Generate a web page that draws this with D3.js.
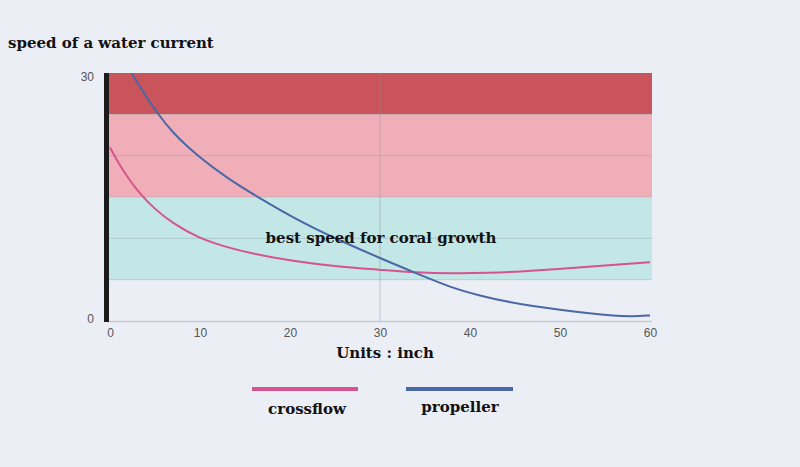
<!DOCTYPE html>
<html><head><meta charset="utf-8">
<script src="https://cdn.jsdelivr.net/npm/d3@7"></script>
<style>html,body{margin:0;padding:0;background:#eceef6;}svg{display:block;}</style>
</head><body>
<svg id="c" width="800" height="467"></svg>
<script>
const xTicks = [0,10,20,30,40,50,60];
const yTicks = [0,30];
const gridValues = [5,10,15,20,25];
const bands = [
  {from:25,to:30,color:"#c9545b"},
  {from:15,to:25,color:"#f0afb8"},
  {from:5,to:15,color:"#c3e6e6"}
];
const crossflow = [[0,21],[1,19],[2,17.3],[3.3,15.4],[5,13.5],[7,11.8],[9.7,10.1],[13,8.9],[16,8.1],[20,7.3],[25,6.6],[30,6.2],[34,5.85],[38,5.75],[42,5.8],[46,6.0],[50,6.3],[55,6.7],[60,7.1]];
const propeller = [[2.4,30],[3.5,28.0],[5.2,25.2],[7,22.7],[9.8,19.9],[13,17.3],[16.4,15],[21,12.1],[25,10],[30,7.6],[34.2,5.7],[38,4.0],[41,3.1],[44,2.35],[47,1.8],[50,1.35],[53,0.95],[56,0.62],[58,0.55],[60,0.68]];
const series = [
  {name:"crossflow", data:crossflow, color:"#d6538f"},
  {name:"propeller", data:propeller, color:"#4a67a6"}
];

const svg = d3.select("#c");
const x = d3.scaleLinear().domain([0,60]).range([110,650]);
const y = d3.scaleLinear().domain([0,30]).range([321,73]);
const L = 108, R = 652;

svg.append("defs").append("clipPath").attr("id","clip").append("rect")
  .attr("x",L).attr("y",y(30)).attr("width",R-L).attr("height",y(0)-y(30));

svg.append("g").selectAll("rect").data(bands).join("rect")
  .attr("x",L).attr("width",R-L)
  .attr("y",d=>y(d.to)).attr("height",d=>y(d.from)-y(d.to))
  .attr("fill",d=>d.color);

svg.append("g").selectAll("line").data(gridValues).join("line")
  .attr("x1",L).attr("x2",R).attr("y1",d=>y(d)).attr("y2",d=>y(d))
  .attr("stroke","#8a9aa0").attr("stroke-opacity",0.35).attr("stroke-width",1);

svg.append("line").attr("x1",x(30)).attr("x2",x(30)).attr("y1",y(30)).attr("y2",y(0))
  .attr("stroke","#8a8f99").attr("stroke-opacity",0.45);

svg.append("line").attr("x1",L).attr("x2",R).attr("y1",y(0)+0.5).attr("y2",y(0)+0.5)
  .attr("stroke","#c8cbd2").attr("stroke-width",1.5);

svg.append("rect").attr("x",104).attr("width",5).attr("y",y(30)).attr("height",y(0)-y(30)+1).attr("fill","#1b1b1b");

const line = d3.line().x(d=>x(d[0])).y(d=>y(d[1])).curve(d3.curveBasis);
svg.append("g").attr("clip-path","url(#clip)").selectAll("path").data(series).join("path")
  .attr("d",d=>line(d.data)).attr("fill","none")
  .attr("stroke",d=>d.color).attr("stroke-width",2);

const xAxis = d3.axisBottom(x).tickValues(xTicks).tickSize(0).tickPadding(7);
const gx = svg.append("g").attr("transform",`translate(0,${y(0)})`).call(xAxis);
gx.select(".domain").remove();
gx.selectAll("text").attr("font-family","Liberation Sans, Arial, sans-serif").attr("font-size",12).attr("fill","#555");

const yAxis = d3.axisLeft(y).tickValues(yTicks).tickSize(0).tickPadding(8);
const gy = svg.append("g").attr("transform",`translate(102,0)`).call(yAxis);
gy.select(".domain").remove();
gy.selectAll("text").attr("font-family","Liberation Sans, Arial, sans-serif").attr("font-size",12).attr("fill","#555")
  .attr("dy",(d)=> d===30? "0.6em":"0.1em");

const serif = "DejaVu Serif, Georgia, serif";
const fs = 15;
svg.append("text").attr("x",8).attr("y",48).text("speed of a water current")
  .attr("font-family",serif).attr("font-weight","bold").attr("font-size",fs).attr("fill","#111");
svg.append("text").attr("x",381).attr("y",243).attr("text-anchor","middle").text("best speed for coral growth")
  .attr("font-family",serif).attr("font-weight","bold").attr("font-size",fs).attr("fill","#111");
svg.append("text").attr("x",385).attr("y",358).attr("text-anchor","middle").text("Units : inch")
  .attr("font-family",serif).attr("font-weight","bold").attr("font-size",fs).attr("fill","#111");

const legendPos = [{x1:252,x2:358,tx:307,ty:414},{x1:406,x2:513,tx:460,ty:412}];
series.forEach((s,i)=>{
  const p = legendPos[i];
  svg.append("line").attr("x1",p.x1).attr("x2",p.x2).attr("y1",389).attr("y2",389)
    .attr("stroke",s.color).attr("stroke-width",4);
  svg.append("text").attr("x",p.tx).attr("y",p.ty).attr("text-anchor","middle").text(s.name)
    .attr("font-family",serif).attr("font-weight","bold").attr("font-size",fs).attr("fill","#111");
});
</script>
</body></html>
